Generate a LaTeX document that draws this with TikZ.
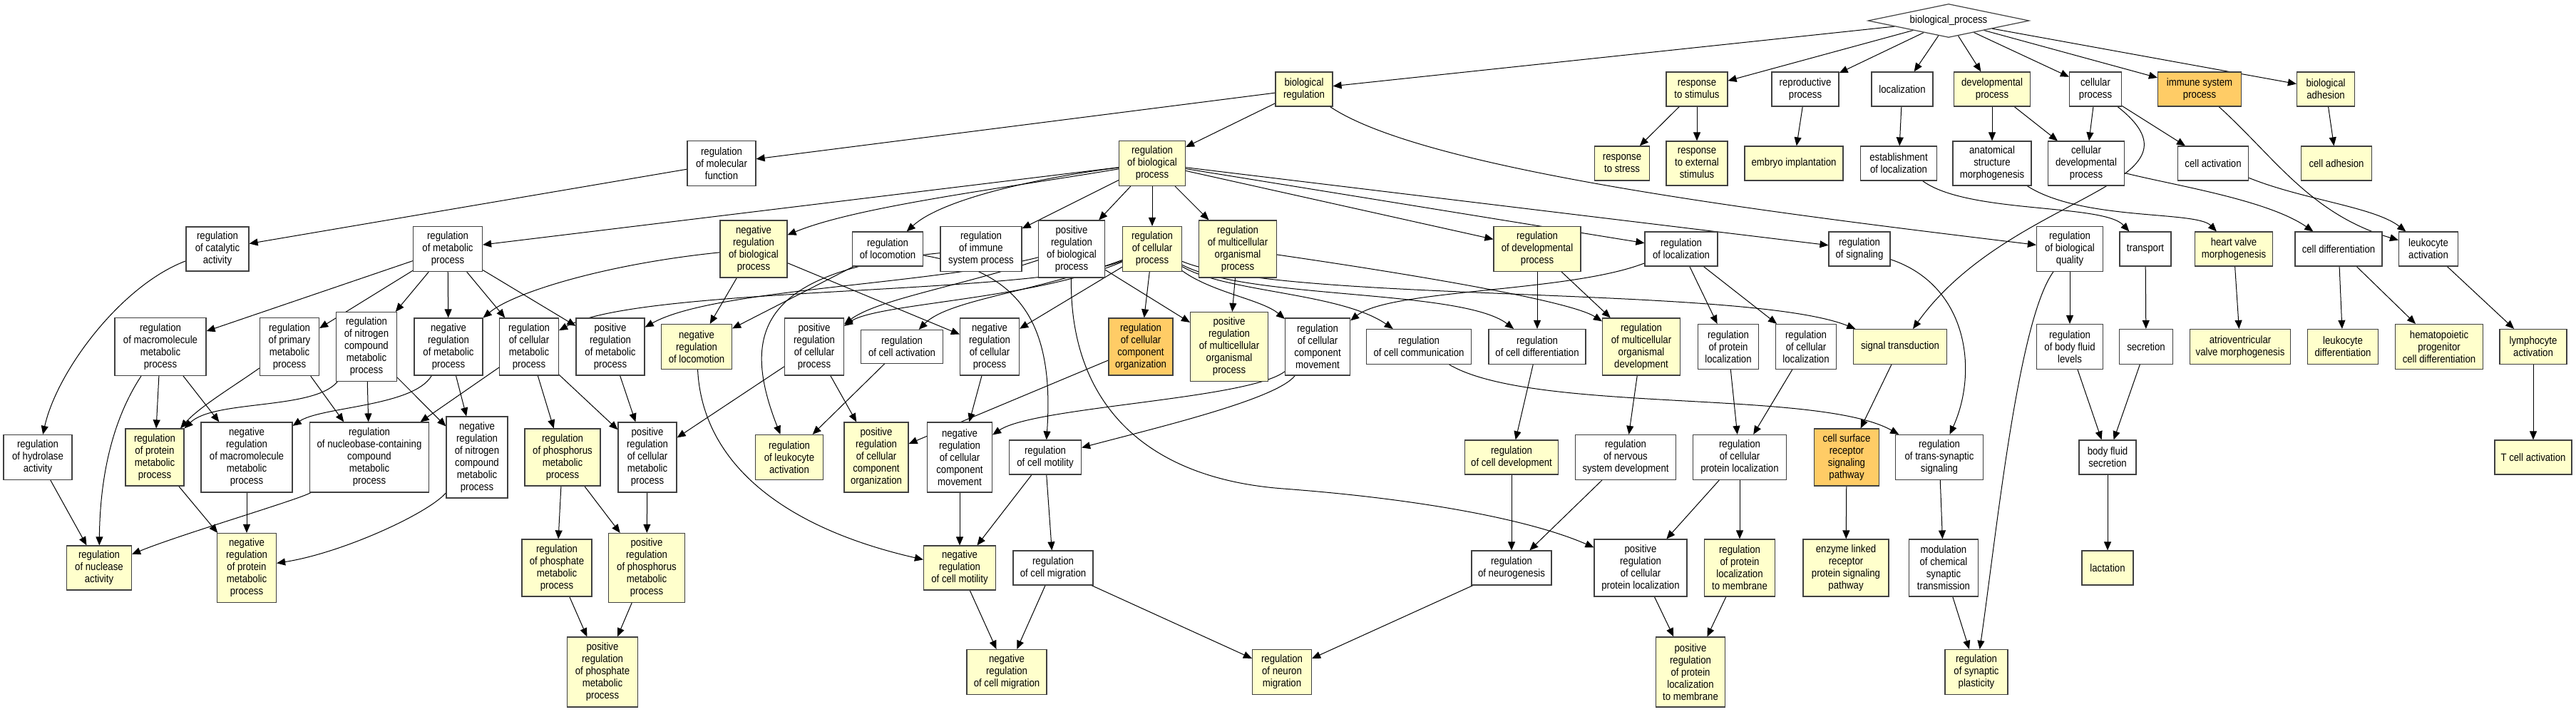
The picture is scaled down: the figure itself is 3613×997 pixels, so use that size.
\documentclass[tikz,border=0pt]{standalone}
\usepackage{fontspec}
\newfontfamily\gofont{Liberation Sans}[FakeStretch=0.88]
\usetikzlibrary{arrows.meta,shapes.geometric,backgrounds}
\definecolor{goyel}{HTML}{FFFFCC}
\definecolor{goora}{HTML}{FFCC66}
\tikzset{
  dob/.style={draw=black!75,line width=1.2pt,inner sep=2pt,align=center,
    font={\gofont\fontsize{15}{17}\selectfont}},
  feh/.style={dob,fill=white},
  sar/.style={dob,fill=goyel},
  nar/.style={dob,fill=goora},
  sz/.style 2 args={minimum width=#1pt,minimum height=#2pt},
  nyil/.style={-{Triangle[length=12pt,width=10pt]},line width=1pt},
}

\begin{document}
\begin{tikzpicture}[x=1pt,y=-1pt]
  \useasboundingbox (0,0) rectangle (3613,997);

  \node[dob,fill=white,shape=diamond,aspect=4.8,sz={226}{47},inner sep=0pt] (bp) at (2733,29) {biological\_process};

  \node[sar,sz={80}{48}] (bioreg) at (1829,125) {biological\\regulation};
  \node[sar,sz={86}{48}] (respstim) at (2380,125) {response\\to stimulus};
  \node[feh,sz={94}{48}] (reprod) at (2532,125) {reproductive\\process};
  \node[feh,sz={86}{48}] (locn) at (2668,125) {localization};
  \node[sar,sz={107}{48}] (devproc) at (2794,125) {developmental\\process};
  \node[feh,sz={73}{48}] (cellproc) at (2939,125) {cellular\\process};
  \node[nar,sz={117}{48}] (immsys) at (3085,125) {immune system\\process};
  \node[sar,sz={81}{48}] (bioadh) at (3262,125) {biological\\adhesion};

  \node[feh,sz={96}{63}] (regmf) at (1012,229) {regulation\\of molecular\\function};
  \node[sar,sz={93}{63}] (regbp) at (1616,229) {regulation\\of biological\\process};
  \node[sar,sz={77}{48}] (respstress) at (2275,229) {response\\to stress};
  \node[sar,sz={86}{62}] (respext) at (2380,229) {response\\to external\\stimulus};
  \node[sar,sz={138}{48}] (embryo) at (2516,229) {embryo implantation};
  \node[feh,sz={107}{48}] (estloc) at (2663,229) {establishment\\of localization};
  \node[feh,sz={110}{62}] (anat) at (2794,229) {anatomical\\structure\\morphogenesis};
  \node[feh,sz={107}{62}] (celldev) at (2926,229) {cellular\\developmental\\process};
  \node[feh,sz={99}{48}] (cellact) at (3104,229) {cell activation};
  \node[sar,sz={99}{48}] (celladh) at (3277,229) {cell adhesion};

  \node[feh,sz={88}{62}] (catal) at (305,349) {regulation\\of catalytic\\activity};
  \node[feh,sz={97}{63}] (regmp) at (628,349) {regulation\\of metabolic\\process};
  \node[sar,sz={94}{80}] (negbp) at (1057,349) {negative\\regulation\\of biological\\process};
  \node[feh,sz={99}{48}] (regloc) at (1245,349) {regulation\\of locomotion};
  \node[feh,sz={114}{63}] (regimm) at (1376,349) {regulation\\of immune\\system process};
  \node[feh,sz={93}{80}] (posbp) at (1503,349) {positive\\regulation\\of biological\\process};
  \node[sar,sz={83}{63}] (regcp) at (1616,349) {regulation\\of cellular\\process};
  \node[sar,sz={109}{80}] (regmop) at (1736,349) {regulation\\of multicellular\\organismal\\process};
  \node[sar,sz={122}{63}] (regdev) at (2156,349) {regulation\\of developmental\\process};
  \node[feh,sz={102}{48}] (regloclz) at (2358,349) {regulation\\of localization};
  \node[feh,sz={86}{48}] (regsig) at (2608,349) {regulation\\of signaling};
  \node[feh,sz={93}{63}] (regbq) at (2903,349) {regulation\\of biological\\quality};
  \node[feh,sz={72}{48}] (transp) at (3009,349) {transport};
  \node[sar,sz={109}{48}] (hvm) at (3133,349) {heart valve\\morphogenesis};
  \node[feh,sz={122}{48}] (celldiff) at (3280,349) {cell differentiation};
  \node[feh,sz={83}{48}] (leukact) at (3406,349) {leukocyte\\activation};

  \node[feh,sz={128}{81}] (macro) at (225,486) {regulation\\of macromolecule\\metabolic\\process};
  \node[feh,sz={83}{81}] (primary) at (406,486) {regulation\\of primary\\metabolic\\process};
  \node[feh,sz={85}{97}] (nitro) at (514,486) {regulation\\of nitrogen\\compound\\metabolic\\process};
  \node[feh,sz={96}{80}] (negmp) at (629,486) {negative\\regulation\\of metabolic\\process};
  \node[feh,sz={83}{80}] (cellmp) at (742,486) {regulation\\of cellular\\metabolic\\process};
  \node[feh,sz={96}{80}] (posmp) at (856,486) {positive\\regulation\\of metabolic\\process};
  \node[sar,sz={99}{63}] (neglocom) at (977,486) {negative\\regulation\\of locomotion};
  \node[feh,sz={83}{80}] (poscp) at (1142,486) {positive\\regulation\\of cellular\\process};
  \node[feh,sz={115}{47}] (regcellact) at (1265,486) {regulation\\of cell activation};
  \node[feh,sz={83}{80}] (negcp) at (1388,486) {negative\\regulation\\of cellular\\process};
  \node[nar,sz={90}{80}] (regcco) at (1600,486) {regulation\\of cellular\\component\\organization};
  \node[sar,sz={109}{97}] (posmop) at (1724,486) {positive\\regulation\\of multicellular\\organismal\\process};
  \node[feh,sz={91}{80}] (regccm) at (1848,486) {regulation\\of cellular\\component\\movement};
  \node[feh,sz={147}{49}] (regcomm) at (1990,486) {regulation\\of cell communication};
  \node[feh,sz={136}{49}] (regdiff) at (2156,486) {regulation\\of cell differentiation};
  \node[sar,sz={109}{80}] (regmod) at (2302,486) {regulation\\of multicellular\\organismal\\development};
  \node[feh,sz={85}{63}] (regprotloc) at (2424,486) {regulation\\of protein\\localization};
  \node[feh,sz={85}{63}] (regcloc) at (2533,486) {regulation\\of cellular\\localization};
  \node[sar,sz={131}{49}] (sigtrans) at (2665,486) {signal transduction};
  \node[feh,sz={93}{63}] (regbfl) at (2903,486) {regulation\\of body fluid\\levels};
  \node[feh,sz={75}{49}] (secr) at (3010,486) {secretion};
  \node[sar,sz={141}{49}] (avm) at (3142,486) {atrioventricular\\valve morphogenesis};
  \node[sar,sz={99}{49}] (leukdiff) at (3286,486) {leukocyte\\differentiation};
  \node[sar,sz={123}{63}] (hpcd) at (3421,486) {hematopoietic\\progenitor\\cell differentiation};
  \node[sar,sz={94}{49}] (lymph) at (3553,486) {lymphocyte\\activation};

  \node[feh,sz={96}{63}] (hydro) at (53,641) {regulation\\of hydrolase\\activity};
  \node[sar,sz={82}{80}] (regprotmp) at (217,641) {regulation\\of protein\\metabolic\\process};
  \node[feh,sz={128}{98}] (negmacro) at (346,641) {negative\\regulation\\of macromolecule\\metabolic\\process};
  \node[feh,sz={167}{98}] (nucleo) at (518,641) {regulation\\of nucleobase-containing\\compound\\metabolic\\process};
  \node[feh,sz={86}{114}] (negnitro) at (669,641) {negative\\regulation\\of nitrogen\\compound\\metabolic\\process};
  \node[sar,sz={106}{80}] (regphos) at (789,641) {regulation\\of phosphorus\\metabolic\\process};
  \node[feh,sz={82}{98}] (poscellmp) at (908,641) {positive\\regulation\\of cellular\\metabolic\\process};
  \node[sar,sz={95}{63}] (regleuk) at (1107,641) {regulation\\of leukocyte\\activation};
  \node[sar,sz={90}{98}] (poscco) at (1229,641) {positive\\regulation\\of cellular\\component\\organization};
  \node[feh,sz={91}{98}] (negccm) at (1346,641) {negative\\regulation\\of cellular\\component\\movement};
  \node[feh,sz={101}{48}] (motil) at (1466,641) {regulation\\of cell motility};
  \node[sar,sz={131}{48}] (regcelldev) at (2120,641) {regulation\\of cell development};
  \node[feh,sz={141}{63}] (regnerv) at (2280,641) {regulation\\of nervous\\system development};
  \node[feh,sz={131}{63}] (regcprotloc) at (2440,641) {regulation\\of cellular\\protein localization};
  \node[nar,sz={91}{80}] (csr) at (2590,641) {cell surface\\receptor\\signaling\\pathway};
  \node[feh,sz={123}{63}] (transsyn) at (2720,641) {regulation\\of trans-synaptic\\signaling};
  \node[feh,sz={80}{48}] (bfs) at (2956,641) {body fluid\\secretion};
  \node[sar,sz={108}{48}] (tcell) at (3553,641) {T cell activation};

  \node[sar,sz={91}{62}] (nuclease) at (139,796) {regulation\\of nuclease\\activity};
  \node[sar,sz={83}{97}] (negprotmp) at (346,796) {negative\\regulation\\of protein\\metabolic\\process};
  \node[sar,sz={98}{80}] (regphate) at (781,796) {regulation\\of phosphate\\metabolic\\process};
  \node[sar,sz={107}{97}] (posphos) at (907,796) {positive\\regulation\\of phosphorus\\metabolic\\process};
  \node[sar,sz={101}{62}] (negmotil) at (1346,796) {negative\\regulation\\of cell motility};
  \node[feh,sz={112}{48}] (migr) at (1477,796) {regulation\\of cell migration};
  \node[feh,sz={112}{48}] (neurogen) at (2120,796) {regulation\\of neurogenesis};
  \node[feh,sz={130}{80}] (poscpl) at (2301,796) {positive\\regulation\\of cellular\\protein localization};
  \node[sar,sz={99}{80}] (regplm) at (2440,796) {regulation\\of protein\\localization\\to membrane};
  \node[sar,sz={120}{80}] (enzyme) at (2589,796) {enzyme linked\\receptor\\protein signaling\\pathway};
  \node[feh,sz={97}{80}] (modul) at (2726,796) {modulation\\of chemical\\synaptic\\transmission};
  \node[sar,sz={72}{48}] (lact) at (2956,796) {lactation};

  \node[sar,sz={99}{98}] (posphate) at (845,942) {positive\\regulation\\of phosphate\\metabolic\\process};
  \node[sar,sz={112}{63}] (negmigr) at (1412,942) {negative\\regulation\\of cell migration};
  \node[sar,sz={83}{63}] (neuromigr) at (1798,942) {regulation\\of neuron\\migration};
  \node[sar,sz={97}{98}] (posplm) at (2371,942) {positive\\regulation\\of protein\\localization\\to membrane};
  \node[sar,sz={88}{63}] (synplast) at (2772,942) {regulation\\of synaptic\\plasticity};

  \begin{scope}[on background layer]
  \draw[nyil] (bp) -- (bioreg);
  \draw[nyil] (bp) -- (respstim);
  \draw[nyil] (bp) -- (reprod);
  \draw[nyil] (bp) -- (locn);
  \draw[nyil] (bp) -- (devproc);
  \draw[nyil] (bp) -- (cellproc);
  \draw[nyil] (bp) -- (immsys);
  \draw[nyil] (bp) -- (bioadh);
  \draw[nyil] (bioreg) -- (regbp);
  \draw[nyil] (bioreg) -- (regmf);
  \draw[nyil] (bioreg) .. controls (2000,240) and (2500,300) .. (regbq);
  \draw[nyil] (respstim) -- (respstress);
  \draw[nyil] (respstim) -- (respext);
  \draw[nyil] (reprod) -- (embryo);
  \draw[nyil] (locn) -- (estloc);
  \draw[nyil] (devproc) -- (anat);
  \draw[nyil] (devproc) -- (celldev);
  \draw[nyil] (cellproc) -- (celldev);
  \draw[nyil] (cellproc) -- (cellact);
  \draw[nyil] (cellproc) .. controls (3110,260) and (2820,270) .. (sigtrans);
  \draw[nyil] (immsys) .. controls (3190,220) and (3240,300) .. (leukact);
  \draw[nyil] (bioadh) -- (celladh);
  \draw[nyil] (regmf) -- (catal);
  \draw[nyil] (regbp) -- (regmp);
  \draw[nyil] (regbp) .. controls (1400,265) and (1200,290) .. (negbp);
  \draw[nyil] (regbp) .. controls (1450,250) and (1320,280) .. (regloc);
  \draw[nyil] (regbp) -- (regimm);
  \draw[nyil] (regbp) -- (posbp);
  \draw[nyil] (regbp) -- (regcp);
  \draw[nyil] (regbp) -- (regmop);
  \draw[nyil] (regbp) -- (regdev);
  \draw[nyil] (regbp) -- (regloclz);
  \draw[nyil] (regbp) -- (regsig);
  \draw[nyil] (estloc) .. controls (2760,300) and (2950,285) .. (transp);
  \draw[nyil] (anat) .. controls (2920,310) and (3080,295) .. (hvm);
  \draw[nyil] (celldev) .. controls (3050,260) and (3180,280) .. (celldiff);
  \draw[nyil] (cellact) .. controls (3230,280) and (3330,290) .. (leukact);
  \draw[nyil] (catal) .. controls (170,400) and (80,520) .. (hydro);
  \draw[nyil] (regmp) -- (macro);
  \draw[nyil] (regmp) -- (primary);
  \draw[nyil] (regmp) -- (nitro);
  \draw[nyil] (regmp) -- (negmp);
  \draw[nyil] (regmp) -- (cellmp);
  \draw[nyil] (regmp) -- (posmp);
  \draw[nyil] (negbp) .. controls (850,370) and (720,410) .. (negmp);
  \draw[nyil] (negbp) -- (neglocom);
  \draw[nyil] (negbp) -- (negcp);
  \draw[nyil] (regloc) -- (neglocom);
  \draw[nyil] (regloc) .. controls (1420,380) and (1480,440) .. (motil);
  \draw[nyil] (regimm) .. controls (1060,380) and (1040,470) .. (regleuk);
  \draw[nyil] (posbp) .. controls (1300,400) and (1000,405) .. (posmp);
  \draw[nyil] (posbp) .. controls (1350,400) and (1230,420) .. (poscp);
  \draw[nyil] (posbp) -- (posmop);
  \draw[nyil] (posbp) .. controls (1500,560) and (1600,670) .. (1800,685)
    .. controls (2000,700) and (2150,730) .. (poscpl);
  \draw[nyil] (regcp) .. controls (1450,415) and (900,400) .. (cellmp);
  \draw[nyil] (regcp) .. controls (1450,420) and (1230,425) .. (poscp);
  \draw[nyil] (regcp) .. controls (1450,410) and (1330,420) .. (regcellact);
  \draw[nyil] (regcp) -- (negcp);
  \draw[nyil] (regcp) -- (regcco);
  \draw[nyil] (regcp) .. controls (1700,410) and (1770,420) .. (regccm);
  \draw[nyil] (regcp) .. controls (1720,410) and (1880,410) .. (regcomm);
  \draw[nyil] (regcp) .. controls (1750,420) and (2050,405) .. (regdiff);
  \draw[nyil] (regcp) .. controls (1800,425) and (2450,400) .. (sigtrans);
  \draw[nyil] (regmop) -- (posmop);
  \draw[nyil] (regmop) .. controls (1950,380) and (2200,420) .. (regmod);
  \draw[nyil] (regdev) -- (regdiff);
  \draw[nyil] (regdev) -- (regmod);
  \draw[nyil] (regloclz) .. controls (2200,410) and (1950,405) .. (regccm);
  \draw[nyil] (regloclz) -- (regprotloc);
  \draw[nyil] (regloclz) -- (regcloc);
  \draw[nyil] (regsig) .. controls (2760,400) and (2775,520) .. (transsyn);
  \draw[nyil] (regbq) -- (regbfl);
  \draw[nyil] (regbq) .. controls (2830,450) and (2800,750) .. (synplast);
  \draw[nyil] (transp) -- (secr);
  \draw[nyil] (hvm) -- (avm);
  \draw[nyil] (celldiff) -- (leukdiff);
  \draw[nyil] (celldiff) -- (hpcd);
  \draw[nyil] (leukact) -- (lymph);
  \draw[nyil] (macro) .. controls (150,600) and (140,690) .. (nuclease);
  \draw[nyil] (macro) -- (regprotmp);
  \draw[nyil] (macro) -- (negmacro);
  \draw[nyil] (primary) .. controls (330,540) and (280,570) .. (regprotmp);
  \draw[nyil] (primary) -- (nucleo);
  \draw[nyil] (nitro) .. controls (440,575) and (300,560) .. (regprotmp);
  \draw[nyil] (nitro) -- (nucleo);
  \draw[nyil] (nitro) -- (negnitro);
  \draw[nyil] (negmp) .. controls (580,570) and (450,570) .. (negmacro);
  \draw[nyil] (negmp) -- (negnitro);
  \draw[nyil] (cellmp) -- (nucleo);
  \draw[nyil] (cellmp) -- (regphos);
  \draw[nyil] (cellmp) -- (poscellmp);
  \draw[nyil] (posmp) -- (poscellmp);
  \draw[nyil] (neglocom) .. controls (985,650) and (1100,740) .. (negmotil);
  \draw[nyil] (poscp) -- (poscellmp);
  \draw[nyil] (poscp) -- (poscco);
  \draw[nyil] (regcellact) -- (regleuk);
  \draw[nyil] (negcp) -- (negccm);
  \draw[nyil] (regcco) -- (poscco);
  \draw[nyil] (regccm) .. controls (1750,560) and (1450,570) .. (negccm);
  \draw[nyil] (regccm) .. controls (1790,560) and (1620,600) .. (motil);
  \draw[nyil] (regcomm) .. controls (2150,580) and (2550,545) .. (transsyn);
  \draw[nyil] (regdiff) -- (regcelldev);
  \draw[nyil] (regmod) -- (regnerv);
  \draw[nyil] (regprotloc) -- (regcprotloc);
  \draw[nyil] (regcloc) -- (regcprotloc);
  \draw[nyil] (sigtrans) -- (csr);
  \draw[nyil] (regbfl) -- (bfs);
  \draw[nyil] (secr) -- (bfs);
  \draw[nyil] (lymph) -- (tcell);
  \draw[nyil] (hydro) -- (nuclease);
  \draw[nyil] (regprotmp) -- (negprotmp);
  \draw[nyil] (negmacro) -- (negprotmp);
  \draw[nyil] (negnitro) .. controls (600,720) and (480,775) .. (negprotmp);
  \draw[nyil] (nucleo) .. controls (420,700) and (250,750) .. (nuclease);
  \draw[nyil] (regphos) -- (regphate);
  \draw[nyil] (regphos) -- (posphos);
  \draw[nyil] (poscellmp) -- (posphos);
  \draw[nyil] (motil) -- (negmotil);
  \draw[nyil] (motil) -- (migr);
  \draw[nyil] (negccm) -- (negmotil);
  \draw[nyil] (regcelldev) -- (neurogen);
  \draw[nyil] (regnerv) -- (neurogen);
  \draw[nyil] (regcprotloc) -- (poscpl);
  \draw[nyil] (regcprotloc) -- (regplm);
  \draw[nyil] (csr) -- (enzyme);
  \draw[nyil] (transsyn) -- (modul);
  \draw[nyil] (bfs) -- (lact);
  \draw[nyil] (regphate) -- (posphate);
  \draw[nyil] (posphos) -- (posphate);
  \draw[nyil] (negmotil) -- (negmigr);
  \draw[nyil] (migr) -- (negmigr);
  \draw[nyil] (migr) -- (neuromigr);
  \draw[nyil] (neurogen) -- (neuromigr);
  \draw[nyil] (poscpl) -- (posplm);
  \draw[nyil] (regplm) -- (posplm);
  \draw[nyil] (modul) -- (synplast);
  \end{scope}
\end{tikzpicture}
\end{document}
